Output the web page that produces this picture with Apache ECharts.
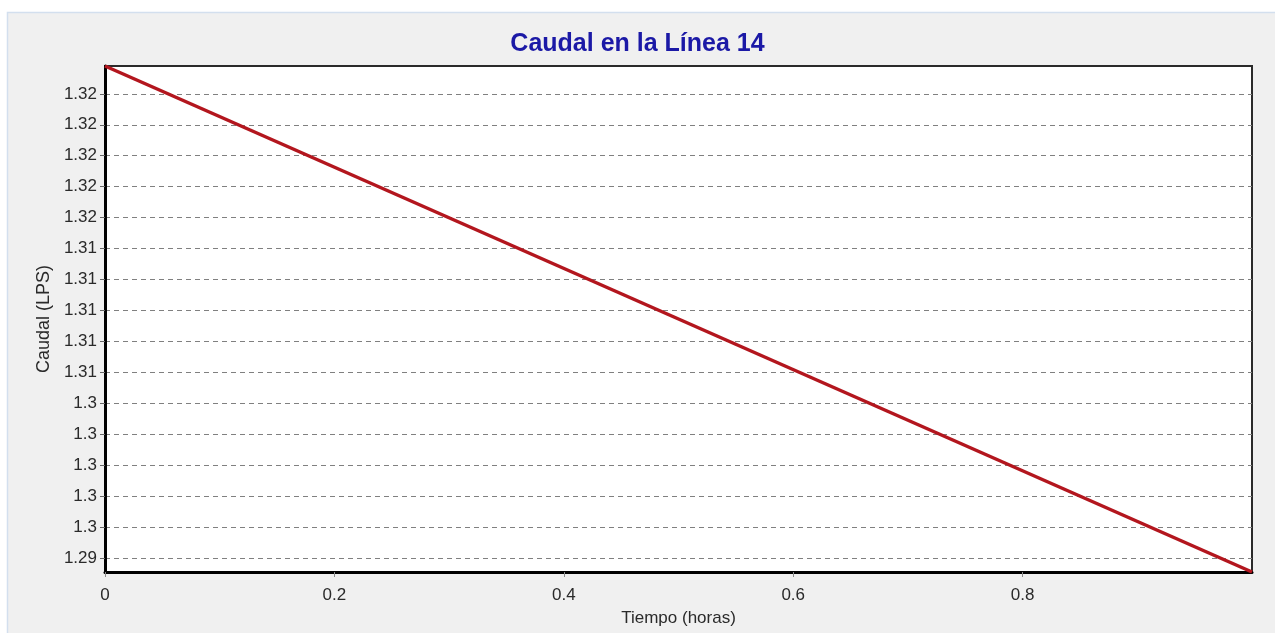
<!DOCTYPE html>
<html>
<head>
<meta charset="utf-8">
<title>Caudal en la Línea 14</title>
<script src="https://cdn.jsdelivr.net/npm/echarts@6/dist/echarts.min.js"></script>
<style>
  html, body { margin: 0; padding: 0; background: #ffffff; }
  #chart { width: 1275px; height: 633px; }
</style>
</head>
<body>
<div id="chart"></div>
<script>
// Flow in link 14 over the first hour of the simulation
const timeHours = [0, 1.0];
const flowLps = [1.3258, 1.2931];

// Axis ticks
const xTickValues = [0, 0.2, 0.4, 0.6, 0.8];
const yTickValues = [1.294, 1.296, 1.298, 1.300, 1.302, 1.304, 1.306, 1.308,
                     1.310, 1.312, 1.314, 1.316, 1.318, 1.320, 1.322, 1.324];

const FONT = '"Liberation Sans", Arial, sans-serif';
const points = timeHours.map((t, i) => [t, flowLps[i]]);

const chart = echarts.init(document.getElementById('chart'), null, { renderer: 'canvas' });

chart.setOption({
  animation: false,
  backgroundColor: '#ffffff',
  graphic: [
    {
      type: 'rect',
      z: -10,
      shape: { x: 7.5, y: 12.5, width: 1275, height: 640 },
      style: { fill: '#f0f0f0', stroke: '#d3dfee', lineWidth: 1.5 }
    }
  ],
  title: {
    text: 'Caudal en la Línea 14',
    left: 'center',
    top: 27,
    textStyle: { fontFamily: FONT, fontSize: 25, fontWeight: 'bold', color: '#1b19a6' }
  },
  grid: {
    left: 105, right: 23, top: 66, bottom: 61,
    show: true,
    backgroundColor: '#ffffff',
    borderColor: '#2a2a2a',
    borderWidth: 2
  },
  xAxis: {
    type: 'value',
    min: 0,
    max: 1,
    name: 'Tiempo (horas)',
    nameLocation: 'middle',
    nameGap: 38,
    nameTextStyle: { fontFamily: FONT, fontSize: 17, color: '#2a2a2a' },
    axisLine: { show: true, onZero: false, lineStyle: { color: '#000', width: 3 } },
    axisTick: { show: true, length: 5, customValues: xTickValues, lineStyle: { color: '#888', width: 1 } },
    axisLabel: {
      customValues: xTickValues,
      margin: 15,
      fontFamily: FONT, fontSize: 17, color: '#2a2a2a',
      formatter: v => String(v)
    },
    splitLine: { show: false }
  },
  yAxis: {
    type: 'value',
    min: 1.2931,
    max: 1.3258,
    name: 'Caudal (LPS)',
    nameLocation: 'middle',
    nameRotate: 90,
    nameGap: 45,
    nameTextStyle: { fontFamily: FONT, fontSize: 18, color: '#2a2a2a' },
    axisLine: { show: true, lineStyle: { color: '#000', width: 3 } },
    axisTick: { show: true, length: 5, customValues: yTickValues, lineStyle: { color: '#666', width: 1 } },
    axisLabel: {
      customValues: yTickValues,
      margin: 8,
      fontFamily: FONT, fontSize: 17, color: '#2a2a2a',
      formatter: v => String(+v.toFixed(2))
    },
    splitLine: {
      show: true,
      showMinLine: true,
      showMaxLine: true,
      lineStyle: { color: '#808080', width: 1, type: [5, 4] }
    }
  },
  series: [
    {
      type: 'line',
      data: points,
      symbol: 'none',
      lineStyle: { color: '#b3161e', width: 3.5 },
      clip: true
    }
  ]
});
</script>
</body>
</html>
